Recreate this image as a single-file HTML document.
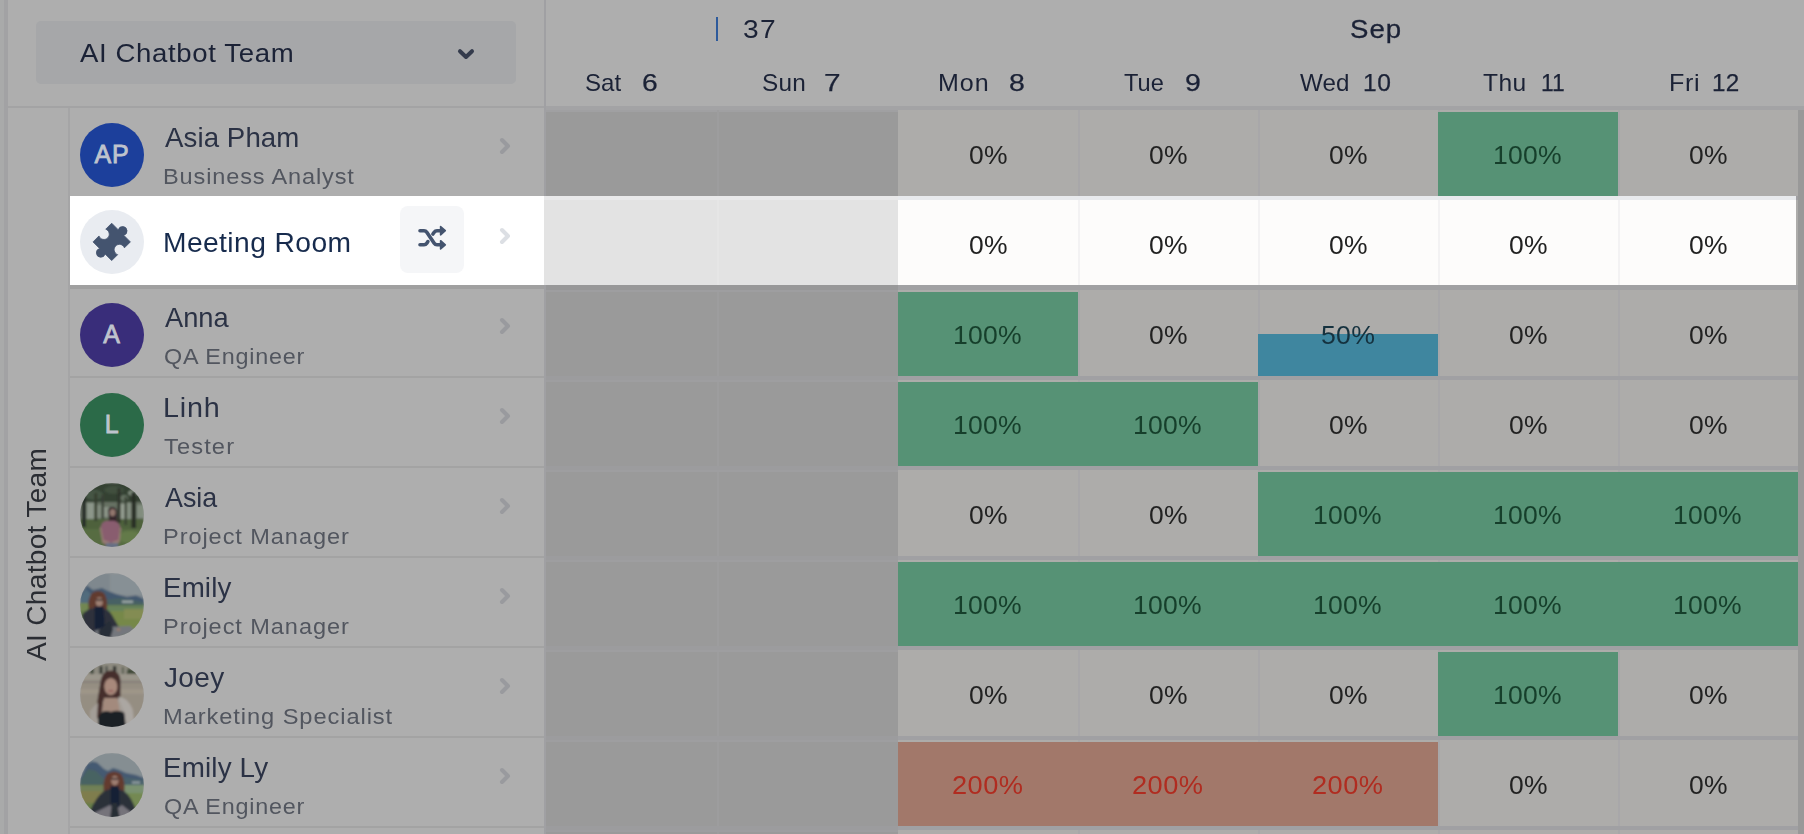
<!DOCTYPE html>
<html><head><meta charset="utf-8"><title>Resource planner</title>
<style>
html,body{margin:0;padding:0;background:#aeaeae;}
body{width:1804px;height:834px;overflow:hidden;position:relative;font-family:"Liberation Sans", sans-serif;}
div{box-sizing:border-box;}
svg{position:absolute;overflow:visible;}
</style></head><body>
<div style="position:absolute;left:0px;top:0px;width:4px;height:834px;background:#a9aaaa;"></div>
<div style="position:absolute;left:4px;top:0px;width:4px;height:834px;background:#a2a2a4;"></div>
<div style="position:absolute;left:68px;top:107px;width:2px;height:727px;background:#a5a5a6;"></div>
<div style="position:absolute;left:8px;top:106px;width:537px;height:2px;background:#a3a3a4;"></div>
<div style="position:absolute;left:544px;top:0px;width:2px;height:834px;background:#a0a0a3;"></div>
<div style="position:absolute;left:36px;top:21px;width:480px;height:63px;background:#a6a7a9;border-radius:5px;"></div>
<div style="position:absolute;left:79.5px;transform-origin:0 50%;top:27.22px;height:53.0px;line-height:53.0px;font-size:26.5px;color:#1b2236;font-weight:400;letter-spacing:0.595px;white-space:nowrap;transform:scaleX(1.0409);">AI Chatbot Team</div>
<svg style="left:456px;top:46px" width="20" height="16" viewBox="456 46 20 16"><path d="M460 51.2 L466 57 L472 51.2" fill="none" stroke="#343b4c" stroke-width="4" stroke-linecap="round" stroke-linejoin="round"/></svg>
<div style="position:absolute;left:716px;top:17px;width:2px;height:24px;background:#2d5a9b;"></div>
<div style="position:absolute;left:742.74px;transform-origin:0 50%;top:2.62px;height:53.0px;line-height:53.0px;font-size:26.5px;color:#1b2236;font-weight:400;letter-spacing:1.2px;white-space:nowrap;transform:scaleX(1.0627);">37</div>
<div style="position:absolute;left:1349.9px;transform-origin:0 50%;top:2.62px;height:53.0px;line-height:53.0px;font-size:26.5px;color:#1b2236;font-weight:400;letter-spacing:0.962px;white-space:nowrap;transform:scaleX(1.0412);-webkit-text-stroke:0.3px #1b2236;">Sep</div>
<div style="position:absolute;left:585.27px;transform-origin:0 50%;top:58.68px;height:48px;line-height:48px;font-size:24px;color:#1b2236;font-weight:400;letter-spacing:0.037px;white-space:nowrap;transform:scaleX(1.0022);">Sat</div>
<div style="position:absolute;left:642.43px;transform-origin:0 50%;top:58.68px;height:48px;line-height:48px;font-size:24px;color:#1b2236;font-weight:400;letter-spacing:0px;white-space:nowrap;transform:scaleX(1.1775);-webkit-text-stroke:0.25px #1b2236;">6</div>
<div style="position:absolute;left:762.06px;transform-origin:0 50%;top:58.68px;height:48px;line-height:48px;font-size:24px;color:#1b2236;font-weight:400;letter-spacing:0.269px;white-space:nowrap;transform:scaleX(1.0132);">Sun</div>
<div style="position:absolute;left:823.85px;transform-origin:0 50%;top:58.68px;height:48px;line-height:48px;font-size:24px;color:#1b2236;font-weight:400;letter-spacing:0px;white-space:nowrap;transform:scaleX(1.2414);-webkit-text-stroke:0.25px #1b2236;">7</div>
<div style="position:absolute;left:938.41px;transform-origin:0 50%;top:58.68px;height:48px;line-height:48px;font-size:24px;color:#1b2236;font-weight:400;letter-spacing:0.963px;white-space:nowrap;transform:scaleX(1.0426);">Mon</div>
<div style="position:absolute;left:1008.71px;transform-origin:0 50%;top:58.68px;height:48px;line-height:48px;font-size:24px;color:#1b2236;font-weight:400;letter-spacing:0px;white-space:nowrap;transform:scaleX(1.1868);-webkit-text-stroke:0.25px #1b2236;">8</div>
<div style="position:absolute;left:1124.21px;transform-origin:0 50%;top:58.68px;height:48px;line-height:48px;font-size:24px;color:#1b2236;font-weight:400;letter-spacing:0px;white-space:nowrap;transform:scaleX(0.9826);">Tue</div>
<div style="position:absolute;left:1184.57px;transform-origin:0 50%;top:58.68px;height:48px;line-height:48px;font-size:24px;color:#1b2236;font-weight:400;letter-spacing:0px;white-space:nowrap;transform:scaleX(1.1865);-webkit-text-stroke:0.25px #1b2236;">9</div>
<div style="position:absolute;left:1299.77px;transform-origin:0 50%;top:58.68px;height:48px;line-height:48px;font-size:24px;color:#1b2236;font-weight:400;letter-spacing:0.131px;white-space:nowrap;transform:scaleX(1.0055);">Wed</div>
<div style="position:absolute;left:1362.6px;transform-origin:0 50%;top:58.68px;height:48px;line-height:48px;font-size:24px;color:#1b2236;font-weight:400;letter-spacing:0.637px;white-space:nowrap;transform:scaleX(1.0257);-webkit-text-stroke:0.25px #1b2236;">10</div>
<div style="position:absolute;left:1482.59px;transform-origin:0 50%;top:58.68px;height:48px;line-height:48px;font-size:24px;color:#1b2236;font-weight:400;letter-spacing:0.463px;white-space:nowrap;transform:scaleX(1.023);">Thu</div>
<div style="position:absolute;left:1541.43px;transform-origin:0 50%;top:58.68px;height:48px;line-height:48px;font-size:24px;color:#1b2236;font-weight:400;letter-spacing:0px;white-space:nowrap;transform:scaleX(0.9537);-webkit-text-stroke:0.25px #1b2236;">11</div>
<div style="position:absolute;left:1668.51px;transform-origin:0 50%;top:58.68px;height:48px;line-height:48px;font-size:24px;color:#1b2236;font-weight:400;letter-spacing:0.581px;white-space:nowrap;transform:scaleX(1.0455);">Fri</div>
<div style="position:absolute;left:1712.33px;transform-origin:0 50%;top:58.68px;height:48px;line-height:48px;font-size:24px;color:#1b2236;font-weight:400;letter-spacing:0.225px;white-space:nowrap;transform:scaleX(1.0094);-webkit-text-stroke:0.25px #1b2236;">12</div>
<div style="position:absolute;left:546px;top:106px;width:352px;height:728px;background:#9a9a9a;"></div>
<div style="position:absolute;left:898px;top:106px;width:900px;height:728px;background:#adacaa;"></div>
<div style="position:absolute;left:1798px;top:110px;width:6px;height:724px;background:#999999;"></div>
<div style="position:absolute;left:546px;top:106px;width:1258px;height:4px;background:#a3a3a5;"></div>
<div style="position:absolute;left:546px;top:110px;width:352px;height:2px;background:#a0a0a2;"></div>
<div style="position:absolute;left:1078px;top:110px;width:2px;height:724px;background:#a8a7a9;"></div>
<div style="position:absolute;left:1258px;top:110px;width:2px;height:724px;background:#a8a7a9;"></div>
<div style="position:absolute;left:1438px;top:110px;width:2px;height:724px;background:#a8a7a9;"></div>
<div style="position:absolute;left:1618px;top:110px;width:2px;height:724px;background:#a8a7a9;"></div>
<div style="position:absolute;left:717px;top:110px;width:2px;height:724px;background:#9d9d9e;"></div>
<div style="position:absolute;left:546px;top:196px;width:352px;height:4px;background:#9c9c9e;"></div>
<div style="position:absolute;left:546px;top:200px;width:352px;height:2px;background:#9e9ea0;"></div>
<div style="position:absolute;left:898px;top:196px;width:900px;height:4px;background:#a0a0a3;"></div>
<div style="position:absolute;left:546px;top:286px;width:352px;height:4px;background:#9c9c9e;"></div>
<div style="position:absolute;left:546px;top:290px;width:352px;height:2px;background:#9e9ea0;"></div>
<div style="position:absolute;left:898px;top:286px;width:900px;height:4px;background:#a0a0a3;"></div>
<div style="position:absolute;left:546px;top:376px;width:352px;height:4px;background:#9c9c9e;"></div>
<div style="position:absolute;left:546px;top:380px;width:352px;height:2px;background:#9e9ea0;"></div>
<div style="position:absolute;left:898px;top:376px;width:900px;height:4px;background:#a0a0a3;"></div>
<div style="position:absolute;left:546px;top:466px;width:352px;height:4px;background:#9c9c9e;"></div>
<div style="position:absolute;left:546px;top:470px;width:352px;height:2px;background:#9e9ea0;"></div>
<div style="position:absolute;left:898px;top:466px;width:900px;height:4px;background:#a0a0a3;"></div>
<div style="position:absolute;left:546px;top:556px;width:352px;height:4px;background:#9c9c9e;"></div>
<div style="position:absolute;left:546px;top:560px;width:352px;height:2px;background:#9e9ea0;"></div>
<div style="position:absolute;left:898px;top:556px;width:900px;height:4px;background:#a0a0a3;"></div>
<div style="position:absolute;left:546px;top:646px;width:352px;height:4px;background:#9c9c9e;"></div>
<div style="position:absolute;left:546px;top:650px;width:352px;height:2px;background:#9e9ea0;"></div>
<div style="position:absolute;left:898px;top:646px;width:900px;height:4px;background:#a0a0a3;"></div>
<div style="position:absolute;left:546px;top:736px;width:352px;height:4px;background:#9c9c9e;"></div>
<div style="position:absolute;left:546px;top:740px;width:352px;height:2px;background:#9e9ea0;"></div>
<div style="position:absolute;left:898px;top:736px;width:900px;height:4px;background:#a0a0a3;"></div>
<div style="position:absolute;left:546px;top:826px;width:352px;height:4px;background:#9c9c9e;"></div>
<div style="position:absolute;left:546px;top:830px;width:352px;height:2px;background:#9e9ea0;"></div>
<div style="position:absolute;left:898px;top:826px;width:900px;height:4px;background:#a0a0a3;"></div>
<div style="position:absolute;left:70px;top:196px;width:474px;height:2px;background:#a3a3a3;"></div>
<div style="position:absolute;left:70px;top:286px;width:474px;height:2px;background:#a3a3a3;"></div>
<div style="position:absolute;left:70px;top:376px;width:474px;height:2px;background:#a3a3a3;"></div>
<div style="position:absolute;left:70px;top:466px;width:474px;height:2px;background:#a3a3a3;"></div>
<div style="position:absolute;left:70px;top:556px;width:474px;height:2px;background:#a3a3a3;"></div>
<div style="position:absolute;left:70px;top:646px;width:474px;height:2px;background:#a3a3a3;"></div>
<div style="position:absolute;left:70px;top:736px;width:474px;height:2px;background:#a3a3a3;"></div>
<div style="position:absolute;left:70px;top:826px;width:474px;height:2px;background:#a3a3a3;"></div>
<div style="position:absolute;left:1438px;top:112px;width:180px;height:84px;background:#569275;"></div>
<div style="position:absolute;left:898px;top:292px;width:180px;height:84px;background:#569275;"></div>
<div style="position:absolute;left:1258px;top:334px;width:180px;height:42px;background:#3f869f;"></div>
<div style="position:absolute;left:898px;top:382px;width:360px;height:84px;background:#569275;"></div>
<div style="position:absolute;left:1258px;top:472px;width:540px;height:84px;background:#569275;"></div>
<div style="position:absolute;left:898px;top:562px;width:900px;height:84px;background:#569275;"></div>
<div style="position:absolute;left:1438px;top:652px;width:180px;height:84px;background:#569275;"></div>
<div style="position:absolute;left:898px;top:742px;width:540px;height:84px;background:#a2786a;"></div>
<div style="position:absolute;left:70px;top:196px;width:474px;height:89px;background:#ffffff;"></div>
<div style="position:absolute;left:544px;top:196px;width:354px;height:89px;background:#e3e3e3;"></div>
<div style="position:absolute;left:544px;top:196px;width:354px;height:4px;background:#e9e9ea;"></div>
<div style="position:absolute;left:898px;top:196px;width:898px;height:89px;background:#fdfcfb;"></div>
<div style="position:absolute;left:898px;top:196px;width:898px;height:4px;background:#e8eaed;"></div>
<div style="position:absolute;left:1078px;top:200px;width:2px;height:85px;background:#f3f2f3;"></div>
<div style="position:absolute;left:1258px;top:200px;width:2px;height:85px;background:#f3f2f3;"></div>
<div style="position:absolute;left:1438px;top:200px;width:2px;height:85px;background:#f3f2f3;"></div>
<div style="position:absolute;left:1618px;top:200px;width:2px;height:85px;background:#f3f2f3;"></div>
<div style="position:absolute;left:717px;top:200px;width:2px;height:85px;background:#e6e6e6;"></div>
<div style="position:absolute;left:70px;top:285px;width:474px;height:4px;background:#a0a0a0;"></div>
<div style="position:absolute;left:546px;top:285px;width:352px;height:5px;background:#989899;"></div>
<div style="position:absolute;left:898px;top:285px;width:900px;height:5px;background:#a1a1a3;"></div>
<div style="position:absolute;left:968.83px;transform-origin:0 50%;top:128.89px;height:52px;line-height:52px;font-size:26px;color:#222222;font-weight:400;letter-spacing:0.285px;white-space:nowrap;transform:scaleX(1.0185);">0%</div>
<div style="position:absolute;left:1148.83px;transform-origin:0 50%;top:128.89px;height:52px;line-height:52px;font-size:26px;color:#222222;font-weight:400;letter-spacing:0.285px;white-space:nowrap;transform:scaleX(1.0185);">0%</div>
<div style="position:absolute;left:1328.83px;transform-origin:0 50%;top:128.89px;height:52px;line-height:52px;font-size:26px;color:#222222;font-weight:400;letter-spacing:0.285px;white-space:nowrap;transform:scaleX(1.0185);">0%</div>
<div style="position:absolute;left:1493.36px;transform-origin:0 50%;top:128.89px;height:52px;line-height:52px;font-size:26px;color:#163f2b;font-weight:400;letter-spacing:0.197px;white-space:nowrap;transform:scaleX(1.0215);">100%</div>
<div style="position:absolute;left:1688.83px;transform-origin:0 50%;top:128.89px;height:52px;line-height:52px;font-size:26px;color:#222222;font-weight:400;letter-spacing:0.285px;white-space:nowrap;transform:scaleX(1.0185);">0%</div>
<div style="position:absolute;left:968.83px;transform-origin:0 50%;top:218.89px;height:52px;line-height:52px;font-size:26px;color:#222222;font-weight:400;letter-spacing:0.285px;white-space:nowrap;transform:scaleX(1.0185);">0%</div>
<div style="position:absolute;left:1148.83px;transform-origin:0 50%;top:218.89px;height:52px;line-height:52px;font-size:26px;color:#222222;font-weight:400;letter-spacing:0.285px;white-space:nowrap;transform:scaleX(1.0185);">0%</div>
<div style="position:absolute;left:1328.83px;transform-origin:0 50%;top:218.89px;height:52px;line-height:52px;font-size:26px;color:#222222;font-weight:400;letter-spacing:0.285px;white-space:nowrap;transform:scaleX(1.0185);">0%</div>
<div style="position:absolute;left:1508.83px;transform-origin:0 50%;top:218.89px;height:52px;line-height:52px;font-size:26px;color:#222222;font-weight:400;letter-spacing:0.285px;white-space:nowrap;transform:scaleX(1.0185);">0%</div>
<div style="position:absolute;left:1688.83px;transform-origin:0 50%;top:218.89px;height:52px;line-height:52px;font-size:26px;color:#222222;font-weight:400;letter-spacing:0.285px;white-space:nowrap;transform:scaleX(1.0185);">0%</div>
<div style="position:absolute;left:953.36px;transform-origin:0 50%;top:308.89px;height:52px;line-height:52px;font-size:26px;color:#163f2b;font-weight:400;letter-spacing:0.197px;white-space:nowrap;transform:scaleX(1.0215);">100%</div>
<div style="position:absolute;left:1148.83px;transform-origin:0 50%;top:308.89px;height:52px;line-height:52px;font-size:26px;color:#222222;font-weight:400;letter-spacing:0.285px;white-space:nowrap;transform:scaleX(1.0185);">0%</div>
<div style="position:absolute;left:1321.17px;transform-origin:0 50%;top:308.89px;height:52px;line-height:52px;font-size:26px;color:#15323f;font-weight:400;letter-spacing:0.281px;white-space:nowrap;transform:scaleX(1.0259);">50%</div>
<div style="position:absolute;left:1508.83px;transform-origin:0 50%;top:308.89px;height:52px;line-height:52px;font-size:26px;color:#222222;font-weight:400;letter-spacing:0.285px;white-space:nowrap;transform:scaleX(1.0185);">0%</div>
<div style="position:absolute;left:1688.83px;transform-origin:0 50%;top:308.89px;height:52px;line-height:52px;font-size:26px;color:#222222;font-weight:400;letter-spacing:0.285px;white-space:nowrap;transform:scaleX(1.0185);">0%</div>
<div style="position:absolute;left:953.36px;transform-origin:0 50%;top:398.89px;height:52px;line-height:52px;font-size:26px;color:#163f2b;font-weight:400;letter-spacing:0.197px;white-space:nowrap;transform:scaleX(1.0215);">100%</div>
<div style="position:absolute;left:1133.36px;transform-origin:0 50%;top:398.89px;height:52px;line-height:52px;font-size:26px;color:#163f2b;font-weight:400;letter-spacing:0.197px;white-space:nowrap;transform:scaleX(1.0215);">100%</div>
<div style="position:absolute;left:1328.83px;transform-origin:0 50%;top:398.89px;height:52px;line-height:52px;font-size:26px;color:#222222;font-weight:400;letter-spacing:0.285px;white-space:nowrap;transform:scaleX(1.0185);">0%</div>
<div style="position:absolute;left:1508.83px;transform-origin:0 50%;top:398.89px;height:52px;line-height:52px;font-size:26px;color:#222222;font-weight:400;letter-spacing:0.285px;white-space:nowrap;transform:scaleX(1.0185);">0%</div>
<div style="position:absolute;left:1688.83px;transform-origin:0 50%;top:398.89px;height:52px;line-height:52px;font-size:26px;color:#222222;font-weight:400;letter-spacing:0.285px;white-space:nowrap;transform:scaleX(1.0185);">0%</div>
<div style="position:absolute;left:968.83px;transform-origin:0 50%;top:488.89px;height:52px;line-height:52px;font-size:26px;color:#222222;font-weight:400;letter-spacing:0.285px;white-space:nowrap;transform:scaleX(1.0185);">0%</div>
<div style="position:absolute;left:1148.83px;transform-origin:0 50%;top:488.89px;height:52px;line-height:52px;font-size:26px;color:#222222;font-weight:400;letter-spacing:0.285px;white-space:nowrap;transform:scaleX(1.0185);">0%</div>
<div style="position:absolute;left:1313.36px;transform-origin:0 50%;top:488.89px;height:52px;line-height:52px;font-size:26px;color:#163f2b;font-weight:400;letter-spacing:0.197px;white-space:nowrap;transform:scaleX(1.0215);">100%</div>
<div style="position:absolute;left:1493.36px;transform-origin:0 50%;top:488.89px;height:52px;line-height:52px;font-size:26px;color:#163f2b;font-weight:400;letter-spacing:0.197px;white-space:nowrap;transform:scaleX(1.0215);">100%</div>
<div style="position:absolute;left:1673.36px;transform-origin:0 50%;top:488.89px;height:52px;line-height:52px;font-size:26px;color:#163f2b;font-weight:400;letter-spacing:0.197px;white-space:nowrap;transform:scaleX(1.0215);">100%</div>
<div style="position:absolute;left:953.36px;transform-origin:0 50%;top:578.89px;height:52px;line-height:52px;font-size:26px;color:#163f2b;font-weight:400;letter-spacing:0.197px;white-space:nowrap;transform:scaleX(1.0215);">100%</div>
<div style="position:absolute;left:1133.36px;transform-origin:0 50%;top:578.89px;height:52px;line-height:52px;font-size:26px;color:#163f2b;font-weight:400;letter-spacing:0.197px;white-space:nowrap;transform:scaleX(1.0215);">100%</div>
<div style="position:absolute;left:1313.36px;transform-origin:0 50%;top:578.89px;height:52px;line-height:52px;font-size:26px;color:#163f2b;font-weight:400;letter-spacing:0.197px;white-space:nowrap;transform:scaleX(1.0215);">100%</div>
<div style="position:absolute;left:1493.36px;transform-origin:0 50%;top:578.89px;height:52px;line-height:52px;font-size:26px;color:#163f2b;font-weight:400;letter-spacing:0.197px;white-space:nowrap;transform:scaleX(1.0215);">100%</div>
<div style="position:absolute;left:1673.36px;transform-origin:0 50%;top:578.89px;height:52px;line-height:52px;font-size:26px;color:#163f2b;font-weight:400;letter-spacing:0.197px;white-space:nowrap;transform:scaleX(1.0215);">100%</div>
<div style="position:absolute;left:968.83px;transform-origin:0 50%;top:668.89px;height:52px;line-height:52px;font-size:26px;color:#222222;font-weight:400;letter-spacing:0.285px;white-space:nowrap;transform:scaleX(1.0185);">0%</div>
<div style="position:absolute;left:1148.83px;transform-origin:0 50%;top:668.89px;height:52px;line-height:52px;font-size:26px;color:#222222;font-weight:400;letter-spacing:0.285px;white-space:nowrap;transform:scaleX(1.0185);">0%</div>
<div style="position:absolute;left:1328.83px;transform-origin:0 50%;top:668.89px;height:52px;line-height:52px;font-size:26px;color:#222222;font-weight:400;letter-spacing:0.285px;white-space:nowrap;transform:scaleX(1.0185);">0%</div>
<div style="position:absolute;left:1493.36px;transform-origin:0 50%;top:668.89px;height:52px;line-height:52px;font-size:26px;color:#163f2b;font-weight:400;letter-spacing:0.197px;white-space:nowrap;transform:scaleX(1.0215);">100%</div>
<div style="position:absolute;left:1688.83px;transform-origin:0 50%;top:668.89px;height:52px;line-height:52px;font-size:26px;color:#222222;font-weight:400;letter-spacing:0.285px;white-space:nowrap;transform:scaleX(1.0185);">0%</div>
<div style="position:absolute;left:952.49px;transform-origin:0 50%;top:758.89px;height:52px;line-height:52px;font-size:26px;color:#b02c20;font-weight:400;letter-spacing:0.442px;white-space:nowrap;transform:scaleX(1.0471);">200%</div>
<div style="position:absolute;left:1132.49px;transform-origin:0 50%;top:758.89px;height:52px;line-height:52px;font-size:26px;color:#b02c20;font-weight:400;letter-spacing:0.443px;white-space:nowrap;transform:scaleX(1.0471);">200%</div>
<div style="position:absolute;left:1312.49px;transform-origin:0 50%;top:758.89px;height:52px;line-height:52px;font-size:26px;color:#b02c20;font-weight:400;letter-spacing:0.443px;white-space:nowrap;transform:scaleX(1.0471);">200%</div>
<div style="position:absolute;left:1508.83px;transform-origin:0 50%;top:758.89px;height:52px;line-height:52px;font-size:26px;color:#222222;font-weight:400;letter-spacing:0.285px;white-space:nowrap;transform:scaleX(1.0185);">0%</div>
<div style="position:absolute;left:1688.83px;transform-origin:0 50%;top:758.89px;height:52px;line-height:52px;font-size:26px;color:#222222;font-weight:400;letter-spacing:0.285px;white-space:nowrap;transform:scaleX(1.0185);">0%</div>
<div style="position:absolute;left:80px;top:123px;width:64px;height:64px;background:#1c3f9b;border-radius:50%;"></div>
<div style="position:absolute;left:-288px;width:800px;text-align:center;top:129.44px;height:50px;line-height:50px;font-size:25px;color:#bfc3cd;font-weight:400;letter-spacing:0.8px;white-space:nowrap;-webkit-text-stroke:0.8px #bfc3cd;">AP</div>
<div style="position:absolute;left:165.2px;transform-origin:0 50%;top:109.97px;height:55.0px;line-height:55.0px;font-size:27.5px;color:#2b3245;font-weight:400;letter-spacing:0.084px;white-space:nowrap;transform:scaleX(1.0051);">Asia Pham</div>
<div style="position:absolute;left:163.24px;transform-origin:0 50%;top:154.30px;height:45.0px;line-height:45.0px;font-size:22.5px;color:#52565f;font-weight:400;letter-spacing:0.827px;white-space:nowrap;transform:scaleX(1.0458);">Business Analyst</div>
<svg style="left:496px;top:136px" width="20" height="20" viewBox="496 136 20 20"><path d="M502 140 L508 146 L502 152" fill="none" stroke="#999a9e" stroke-width="4" stroke-linecap="round" stroke-linejoin="round"/></svg>
<div style="position:absolute;left:80px;top:210px;width:64px;height:64px;background:#e9ecf1;border-radius:50%;"></div>
<svg style="left:80px;top:210px" width="64" height="64" viewBox="-32 -32 64 64"><g transform="translate(-0.3,-0.1) rotate(45)" fill="#44546f" stroke="#44546f" stroke-width="0.8" stroke-linejoin="round">
<path d="M-13.2 -13.2 H-3.8 A4.4 4.4 0 1 1 3.8 -13.2 H13.2 V-4.8 A5.3 5.3 0 1 0 13.2 4.8 V13.2 H3.8 A4.4 4.4 0 1 1 -3.8 13.2 H-13.2 V4.8 A5.3 5.3 0 1 0 -13.2 -4.8 Z"/></g></svg>
<div style="position:absolute;left:163.19px;transform-origin:0 50%;top:214.87px;height:55.0px;line-height:55.0px;font-size:27.5px;color:#172b4d;font-weight:400;letter-spacing:0.411px;white-space:nowrap;transform:scaleX(1.0252);">Meeting Room</div>
<div style="position:absolute;left:400px;top:206px;width:64px;height:67px;background:#f5f6f8;border-radius:8px;"></div>
<svg style="left:400px;top:206px" width="64" height="67" viewBox="400 206 64 67"><g fill="none" stroke="#44546f" stroke-width="3.6" stroke-linecap="round" stroke-linejoin="round">
<path d="M420 230.7 H424 Q425.8 230.7 426.8 232.2 L434.2 243.3 Q435.2 244.8 437 244.8 H441"/>
<path d="M420 244.8 H424 Q425.8 244.8 426.8 243.3 L427.9 241.6"/>
<path d="M432.9 234.1 L434.2 232.2 Q435.2 230.7 437 230.7 H441"/>
</g><g fill="#44546f" stroke="#44546f" stroke-width="1.6" stroke-linejoin="round"><path d="M440.6 226.6 L445.3 230.7 L440.6 234.8 Z"/><path d="M440.6 240.7 L445.3 244.8 L440.6 248.9 Z"/></g></svg>
<svg style="left:496px;top:226px" width="20" height="20" viewBox="496 226 20 20"><path d="M502 230 L508 236 L502 242" fill="none" stroke="#dcdfe4" stroke-width="4" stroke-linecap="round" stroke-linejoin="round"/></svg>
<div style="position:absolute;left:80px;top:303px;width:64px;height:64px;background:#392d7a;border-radius:50%;"></div>
<div style="position:absolute;left:-288px;width:800px;text-align:center;top:309.44px;height:50px;line-height:50px;font-size:25px;color:#bfc3cd;font-weight:400;letter-spacing:0.8px;white-space:nowrap;-webkit-text-stroke:0.8px #bfc3cd;">A</div>
<div style="position:absolute;left:165.1px;transform-origin:0 50%;top:289.97px;height:55.0px;line-height:55.0px;font-size:27.5px;color:#2b3245;font-weight:400;letter-spacing:0px;white-space:nowrap;transform:scaleX(0.9914);">Anna</div>
<div style="position:absolute;left:163.66px;transform-origin:0 50%;top:334.30px;height:45.0px;line-height:45.0px;font-size:22.5px;color:#52565f;font-weight:400;letter-spacing:0.765px;white-space:nowrap;transform:scaleX(1.0381);">QA Engineer</div>
<svg style="left:496px;top:316px" width="20" height="20" viewBox="496 136 20 20"><path d="M502 140 L508 146 L502 152" fill="none" stroke="#999a9e" stroke-width="4" stroke-linecap="round" stroke-linejoin="round"/></svg>
<div style="position:absolute;left:80px;top:393px;width:64px;height:64px;background:#2b6a48;border-radius:50%;"></div>
<div style="position:absolute;left:-288px;width:800px;text-align:center;top:399.44px;height:50px;line-height:50px;font-size:25px;color:#bfc3cd;font-weight:400;letter-spacing:0.8px;white-space:nowrap;-webkit-text-stroke:0.8px #bfc3cd;">L</div>
<div style="position:absolute;left:162.75px;transform-origin:0 50%;top:379.97px;height:55.0px;line-height:55.0px;font-size:27.5px;color:#2b3245;font-weight:400;letter-spacing:0.75px;white-space:nowrap;transform:scaleX(1.0448);">Linh</div>
<div style="position:absolute;left:164.17px;transform-origin:0 50%;top:424.30px;height:45.0px;line-height:45.0px;font-size:22.5px;color:#52565f;font-weight:400;letter-spacing:1.047px;white-space:nowrap;transform:scaleX(1.0532);">Tester</div>
<svg style="left:496px;top:406px" width="20" height="20" viewBox="496 136 20 20"><path d="M502 140 L508 146 L502 152" fill="none" stroke="#999a9e" stroke-width="4" stroke-linecap="round" stroke-linejoin="round"/></svg>
<svg style="left:80px;top:483px" width="64" height="64" viewBox="0 0 64 64"><use href="#photo1"/><circle cx="32" cy="32" r="32" fill="rgba(20,24,28,0.10)"/></svg>
<div style="position:absolute;left:165.1px;transform-origin:0 50%;top:469.97px;height:55.0px;line-height:55.0px;font-size:27.5px;color:#2b3245;font-weight:400;letter-spacing:0px;white-space:nowrap;transform:scaleX(0.9753);">Asia</div>
<div style="position:absolute;left:163.14px;transform-origin:0 50%;top:514.30px;height:45.0px;line-height:45.0px;font-size:22.5px;color:#52565f;font-weight:400;letter-spacing:0.884px;white-space:nowrap;transform:scaleX(1.0471);">Project Manager</div>
<svg style="left:496px;top:496px" width="20" height="20" viewBox="496 136 20 20"><path d="M502 140 L508 146 L502 152" fill="none" stroke="#999a9e" stroke-width="4" stroke-linecap="round" stroke-linejoin="round"/></svg>
<svg style="left:80px;top:573px" width="64" height="64" viewBox="0 0 64 64"><use href="#photo2"/><circle cx="32" cy="32" r="32" fill="rgba(20,24,28,0.10)"/></svg>
<div style="position:absolute;left:163.23px;transform-origin:0 50%;top:559.97px;height:55.0px;line-height:55.0px;font-size:27.5px;color:#2b3245;font-weight:400;letter-spacing:0.137px;white-space:nowrap;transform:scaleX(1.0084);">Emily</div>
<div style="position:absolute;left:163.14px;transform-origin:0 50%;top:604.30px;height:45.0px;line-height:45.0px;font-size:22.5px;color:#52565f;font-weight:400;letter-spacing:0.884px;white-space:nowrap;transform:scaleX(1.0471);">Project Manager</div>
<svg style="left:496px;top:586px" width="20" height="20" viewBox="496 136 20 20"><path d="M502 140 L508 146 L502 152" fill="none" stroke="#999a9e" stroke-width="4" stroke-linecap="round" stroke-linejoin="round"/></svg>
<svg style="left:80px;top:663px" width="64" height="64" viewBox="0 0 64 64"><use href="#photo3"/><circle cx="32" cy="32" r="32" fill="rgba(20,24,28,0.10)"/></svg>
<div style="position:absolute;left:164.32px;transform-origin:0 50%;top:649.97px;height:55.0px;line-height:55.0px;font-size:27.5px;color:#2b3245;font-weight:400;letter-spacing:0.342px;white-space:nowrap;transform:scaleX(1.0174);">Joey</div>
<div style="position:absolute;left:163.13px;transform-origin:0 50%;top:694.30px;height:45.0px;line-height:45.0px;font-size:22.5px;color:#52565f;font-weight:400;letter-spacing:0.876px;white-space:nowrap;transform:scaleX(1.0513);">Marketing Specialist</div>
<svg style="left:496px;top:676px" width="20" height="20" viewBox="496 136 20 20"><path d="M502 140 L508 146 L502 152" fill="none" stroke="#999a9e" stroke-width="4" stroke-linecap="round" stroke-linejoin="round"/></svg>
<svg style="left:80px;top:753px" width="64" height="64" viewBox="0 0 64 64"><use href="#photo4"/><circle cx="32" cy="32" r="32" fill="rgba(20,24,28,0.10)"/></svg>
<div style="position:absolute;left:163.23px;transform-origin:0 50%;top:739.97px;height:55.0px;line-height:55.0px;font-size:27.5px;color:#2b3245;font-weight:400;letter-spacing:0.155px;white-space:nowrap;transform:scaleX(1.0107);">Emily Ly</div>
<div style="position:absolute;left:163.66px;transform-origin:0 50%;top:784.30px;height:45.0px;line-height:45.0px;font-size:22.5px;color:#52565f;font-weight:400;letter-spacing:0.765px;white-space:nowrap;transform:scaleX(1.0381);">QA Engineer</div>
<svg style="left:496px;top:766px" width="20" height="20" viewBox="496 136 20 20"><path d="M502 140 L508 146 L502 152" fill="none" stroke="#999a9e" stroke-width="4" stroke-linecap="round" stroke-linejoin="round"/></svg>
<div style="position:absolute;left:46.4px;top:661.4px;width:0;height:0;transform:rotate(-90deg);transform-origin:0 0;"><div style="position:absolute;left:-0.00px;top:-37.03px;height:55px;line-height:55px;font-size:27.5px;color:#2a2d33;letter-spacing:0.304px;white-space:nowrap;transform:scaleX(1.0206);transform-origin:0 50%;">AI Chatbot Team</div></div>
<svg width="0" height="0" style="left:0;top:0"><defs>
<clipPath id="cc"><circle cx="32" cy="32" r="32"/></clipPath>
<filter id="bl" x="-10%" y="-10%" width="120%" height="120%"><feGaussianBlur stdDeviation="1.1"/></filter>
<filter id="bl2" x="-10%" y="-10%" width="120%" height="120%"><feGaussianBlur stdDeviation="1.6"/></filter>

<g id="photo1" clip-path="url(#cc)"><g filter="url(#bl)">
<rect width="64" height="64" fill="#5a6a55"/>
<rect y="0" width="64" height="21" fill="#374636"/>
<ellipse cx="14" cy="12" rx="9" ry="5" fill="#4c5d49"/><ellipse cx="34" cy="7" rx="10" ry="4" fill="#465643"/><ellipse cx="53" cy="10" rx="5" ry="3" fill="#8c9a88"/><ellipse cx="44" cy="15" rx="4" ry="3" fill="#6e7d6a"/>
<rect y="19" width="64" height="18" fill="#6f7c6b"/>
<rect x="7" y="20" width="7" height="16" fill="#9aa596"/><rect x="17" y="22" width="5" height="13" fill="#8c9888"/><rect x="24" y="24" width="5" height="10" fill="#97a293"/><rect x="40" y="21" width="5" height="15" fill="#a3ad9f"/><rect x="47" y="20" width="5" height="16" fill="#909c8c"/><rect x="57" y="22" width="7" height="13" fill="#8f9b8a"/>
<rect y="36" width="64" height="28" fill="#546b40"/>
<rect x="0" y="46" width="64" height="18" fill="#5f7746"/>
<ellipse cx="50" cy="54" rx="12" ry="6" fill="#6d8650"/>
<rect x="2" y="14" width="4" height="30" fill="#2c3329"/><rect x="14.5" y="10" width="2.6" height="28" fill="#39412f"/><rect x="21.5" y="12" width="2.4" height="24" fill="#3d4538"/>
<rect x="37.5" y="5" width="3" height="35" fill="#30372c"/><rect x="44.6" y="14" width="2.2" height="28" fill="#3a4233"/><rect x="51.5" y="9" width="4.5" height="36" fill="#2b3127"/>
<path d="M28 27 Q29 23.5 32.5 24 Q36.5 24 37 29 L37.5 42 L34 43 L29 38 Z" fill="#3a2a2f"/>
<ellipse cx="32.6" cy="29.6" rx="2.9" ry="3.7" fill="#a08277"/>
<path d="M21 43 Q22.5 37 30 38 Q37.5 37 40 43 L39 56 L37 62 H25 L23 56 Z" fill="#976679"/>
<path d="M21 43.5 L23.5 57 L30 59 L29 61 L22.5 60 L19.8 45Z" fill="#a98a80"/><path d="M40 44 L38.5 57 L32 59 L32.5 61 L39.5 59.5 L41.2 45Z" fill="#a98a80"/>
<rect x="26" y="60" width="12" height="5" fill="#6f7a90"/>
</g></g>

<g id="photo2" clip-path="url(#cc)"><g filter="url(#bl)">
<rect width="64" height="64" fill="#8f9aa0"/>
<rect y="0" width="64" height="24" fill="#8c969b"/>
<rect x="30" y="0" width="34" height="22" fill="#959fa3"/>
<path d="M0 22 L7 12.5 L13 17 L22 15 L28 18 L36 21 L47 24 L56 22.5 L64 26 V36 H0Z" fill="#4a6079"/>
<path d="M0 24 L6 16 L12 22 L20 27 L30 30 V36 H0Z" fill="#5a7688"/>
<path d="M24 27 L40 25 L64 29 V36 H24Z" fill="#4e6a6c"/>
<rect y="32" width="64" height="32" fill="#6d8850"/>
<path d="M28 33 H64 V40 H28Z" fill="#6f8f62"/>
<path d="M30 38 H64 V56 H30Z" fill="#82964f"/>
<path d="M44 36 H64 V46 H44Z" fill="#909a5a"/>
<rect x="42" y="27.6" width="11" height="2.2" fill="#b3bdbb"/>
<rect x="0" y="30" width="8" height="8" fill="#7d9458"/>
<path d="M9 38 Q7 26 12 20 Q18 16 24 20 Q28 26 27 36 L24 40 H12 Z" fill="#6a4033"/>
<ellipse cx="19.3" cy="28.8" rx="3.5" ry="4.6" fill="#ad8d7e"/>
<rect x="16" y="26" width="7" height="1.6" fill="#3a2c2c"/>
<path d="M2 42 Q8 34 17 35 Q28 34 32 42 L40 56 L38 60 L30 58 L28 66 H8 L4 52 Z" fill="#30363f"/>
<path d="M14.5 33.5 H23.5 L25 62 H15Z" fill="#192038"/>
<path d="M14 58 L26 54 L50 53 L56 58 L40 64 L20 66Z" fill="#7f8388"/>
<path d="M18 58 L30 48 L33 56 L30 66 H20Z" fill="#2b313a"/>
<ellipse cx="38.5" cy="56.5" rx="2" ry="1.6" fill="#a88877"/>
</g></g>

<g id="photo3" clip-path="url(#cc)"><g filter="url(#bl)">
<rect width="64" height="64" fill="#a39b8e"/>
<rect y="0" width="64" height="11" fill="#9b998b"/>
<rect x="10.5" y="4" width="3" height="7" fill="#3c4436"/><rect x="19.5" y="3" width="3" height="8" fill="#353b34"/><rect x="25.5" y="3" width="2" height="6" fill="#4a4f48"/><rect x="33" y="3" width="3.2" height="6" fill="#2d312e"/><rect x="42" y="4" width="1.6" height="7" fill="#525a4a"/><path d="M48 5 L58 9 L60 13 H46Z" fill="#44503b"/>
<rect y="11" width="64" height="7" fill="#aaa598"/>
<rect y="17.5" width="64" height="3" fill="#958f85"/>
<rect y="20" width="64" height="44" fill="#a49c8e"/>
<rect y="26" width="64" height="5" fill="#aea595"/>
<path d="M21 16 Q23 7.5 31 7.5 Q39.5 7.5 40.5 17 L40.5 33 L37 37 H25 L23 50 L18 58 L16 48 L18 34 Z" fill="#4b302d"/>
<ellipse cx="30.8" cy="23.5" rx="6.6" ry="8.6" fill="#b99786"/>
<ellipse cx="30.8" cy="28" rx="3" ry="1.2" fill="#a9766e"/>
<path d="M10 48 Q18 36 31 37 Q46 33 53 46 L55 64 H10Z" fill="#b4ada5"/>
<path d="M24 35 H37.5 L40 49 H22Z" fill="#b49888"/>
<path d="M18 52 Q24 46 31 49 Q38 46 45 50 L46 66 H18Z" fill="#1e2128"/>
<path d="M21 18 L18 40 L17 56 L22 48 L24.5 26Z" fill="#4b302d"/>
<path d="M38 34 Q48 34 52 46 L54 60 L46 62 L44 48Z" fill="#bdb8b1"/>
</g></g>

<g id="photo4" clip-path="url(#cc)"><g filter="url(#bl)">
<rect width="64" height="64" fill="#8f9aa0"/>
<rect y="0" width="64" height="24" fill="#929ca0"/>
<path d="M0 26 L7 11 L12 8.5 L17 9.5 L24 16 L28 18 L33 15 L38 16.5 L46 20 L56 22 L64 25 V36 H0Z" fill="#4b627b"/>
<path d="M0 28 L8 16 L16 18 L24 26 L30 30 V36 H0Z" fill="#506c6a"/>
<path d="M40 24 L64 27 V34 H40Z" fill="#4f6b74"/>
<rect y="32" width="64" height="32" fill="#728a50"/>
<rect x="0" y="33" width="24" height="6" fill="#7b8d5e"/>
<rect x="0" y="38" width="22" height="12" fill="#8c8a52"/>
<rect x="44" y="32" width="20" height="8" fill="#86a07a"/>
<rect x="46" y="40" width="18" height="14" fill="#7f9758"/>
<rect x="52" y="28.5" width="8" height="2" fill="#a9b5b6"/>
<path d="M24 42 Q22 28 27 21 Q34 16 41 21 Q46 28 44 42 L40 46 H28 Z" fill="#6c4133"/>
<ellipse cx="34.8" cy="27.6" rx="3.7" ry="4.8" fill="#ad8a7b"/>
<rect x="31" y="25" width="7.5" height="1.6" fill="#3c2c2b"/>
<path d="M10 58 Q16 44 24 38 Q34 33 44 38 Q52 44 56 58 L50 64 H16 Z" fill="#2f353d"/>
<path d="M30.5 33 H39 L39.5 58 H31Z" fill="#182038"/>
<path d="M14 60 L30 52 L36 56 L42 52 L52 60 L46 66 H20Z" fill="#807e85"/>
<path d="M32 50 L37 50 L40 66 H30Z" fill="#2a3038"/>
</g></g>
</defs></svg>
</body></html>
